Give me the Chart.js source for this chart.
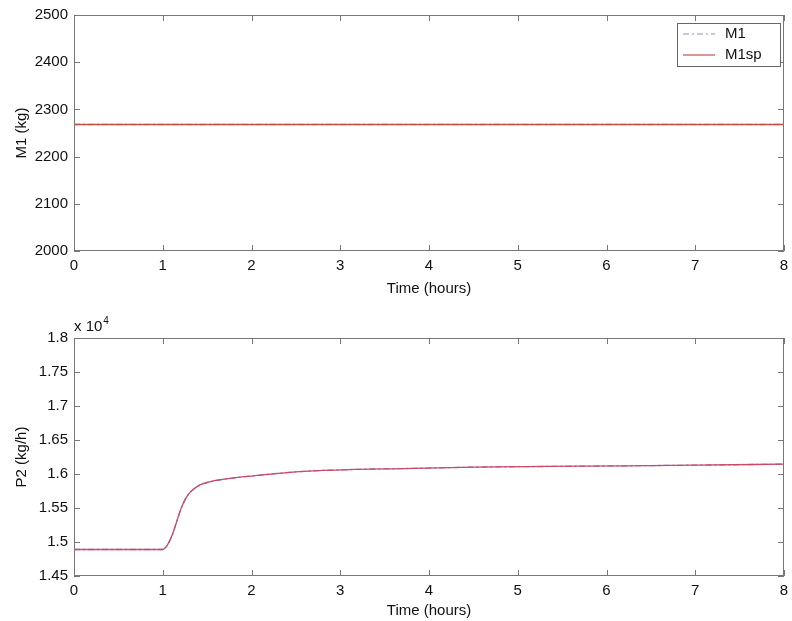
<!DOCTYPE html>
<html>
<head>
<meta charset="utf-8">
<script src="https://cdn.jsdelivr.net/npm/chart.js@4.4.0/dist/chart.umd.min.js"></script>
<style>
  body { margin: 0; background: #fff; }
  #wrap { position: relative; width: 792px; height: 621px; }
  canvas { position: absolute; left: 0; }
</style>
</head>
<body>
<div id="wrap">
  <canvas id="topChart" width="792" height="300" style="top:0px"></canvas>
  <canvas id="bottomChart" width="792" height="321" style="top:300px"></canvas>
</div>
<script>
// top plot: holdup M1 and its setpoint
const timeTop = [0, 8];
const m1 = [2268, 2268];
const m1sp = [2268, 2268];

// bottom plot: product flow P2 (kg/h)
const timeBottom = [0, 1.0, 1.05, 1.1, 1.15, 1.2, 1.25, 1.3, 1.35, 1.42, 1.5, 1.6, 1.76, 2.0, 2.3, 2.6, 3.1, 3.7, 4.5, 5.7, 7.0, 8.0];
const p2 = [14890, 14890, 14950, 15080, 15270, 15470, 15620, 15720, 15780, 15840, 15875, 15905, 15935, 15970, 16010, 16040, 16065, 16080, 16100, 16115, 16130, 16145];
const p2sp = [14890, 14890, 14950, 15080, 15270, 15470, 15620, 15720, 15780, 15840, 15875, 15905, 15935, 15970, 16010, 16040, 16065, 16080, 16100, 16115, 16130, 16145];

const xTickStep = 1;
const FONT = "'Liberation Sans', Arial, sans-serif";

const toPoints = (xs, ys) => xs.map((x, i) => ({ x: x, y: ys[i] }));

// draws a matlab style box with inward ticks, plus legend / exponent text
const matlabAxes = {
  id: 'matlabAxes',
  afterDraw(chart, args, opts) {
    const { ctx, chartArea: a, scales } = chart;
    ctx.save();
    ctx.strokeStyle = '#777';
    ctx.lineWidth = 1;
    ctx.strokeRect(a.left + 0.5, a.top + 0.5, a.right - a.left - 1, a.bottom - a.top - 1);

    ctx.beginPath();
    scales.x.ticks.forEach(t => {
      const px = Math.round(scales.x.getPixelForValue(t.value)) + 0.5;
      ctx.moveTo(px, a.bottom); ctx.lineTo(px, a.bottom - 6);
      ctx.moveTo(px, a.top); ctx.lineTo(px, a.top + 6);
    });
    scales.y.ticks.forEach(t => {
      const py = Math.round(scales.y.getPixelForValue(t.value)) + 0.5;
      ctx.moveTo(a.left, py); ctx.lineTo(a.left + 6, py);
      ctx.moveTo(a.right, py); ctx.lineTo(a.right - 6, py);
    });
    ctx.stroke();

    if (opts.legend) {
      const lx = a.right - 107, ly = a.top + 8, lw = 103, lh = 43;
      ctx.fillStyle = '#fff';
      ctx.fillRect(lx, ly, lw, lh);
      ctx.strokeStyle = '#666';
      ctx.strokeRect(lx + 0.5, ly + 0.5, lw, lh);
      ctx.font = '15px ' + FONT;
      ctx.textBaseline = 'middle';
      chart.data.datasets.forEach((ds, i) => {
        const y = ly + 11 + i * 21;
        ctx.beginPath();
        ctx.strokeStyle = ds.borderColor;
        ctx.lineWidth = 1.2;
        ctx.setLineDash(ds.borderDash || []);
        ctx.moveTo(lx + 6, y); ctx.lineTo(lx + 38, y);
        ctx.stroke();
        ctx.setLineDash([]);
        ctx.fillStyle = '#111';
        ctx.fillText(ds.label, lx + 48, y);
      });
    }

    if (opts.exponent) {
      ctx.fillStyle = '#111';
      ctx.textBaseline = 'alphabetic';
      ctx.font = '15px ' + FONT;
      ctx.fillText('x 10', a.left, a.top - 7);
      const w = ctx.measureText('x 10').width;
      ctx.font = '10px ' + FONT;
      ctx.fillText(opts.exponent, a.left + w + 1, a.top - 14);
    }
    ctx.restore();
  }
};

function makeOptions(cfg) {
  return {
    responsive: false,
    animation: false,
    layout: { padding: { top: cfg.padTop, right: 8, left: 0, bottom: 0 } },
    plugins: {
      legend: { display: false },
      tooltip: { enabled: false },
      matlabAxes: { legend: cfg.legend, exponent: cfg.exponent }
    },
    elements: { point: { radius: 0 } },
    scales: {
      x: {
        type: 'linear',
        min: 0, max: 8,
        ticks: { stepSize: xTickStep, autoSkip: false, maxRotation: 0, padding: 6, color: '#111', font: { family: FONT, size: 15 } },
        grid: { display: false, drawTicks: false },
        border: { display: false },
        title: { display: true, text: 'Time (hours)', color: '#111', font: { family: FONT, size: 15 }, padding: { top: 0, bottom: cfg.titlePadBottom } },
        afterFit: s => { s.height = cfg.xHeight; s.paddingLeft = 0; s.paddingRight = 0; }
      },
      y: {
        type: 'linear',
        min: cfg.yMin, max: cfg.yMax,
        ticks: { stepSize: cfg.yStep, autoSkip: false, padding: 6, color: '#111', font: { family: FONT, size: 15 }, callback: cfg.yFormat },
        grid: { display: false, drawTicks: false },
        border: { display: false },
        title: { display: true, text: cfg.yTitle, color: '#111', font: { family: FONT, size: 15 }, padding: { top: 13, bottom: 0 } },
        afterFit: s => { s.width = 74; s.paddingTop = 0; s.paddingBottom = 0; }
      }
    }
  };
}

new Chart(document.getElementById('topChart'), {
  type: 'line',
  data: {
    datasets: [
      { label: 'M1', data: toPoints(timeTop, m1), borderColor: '#8a92c8', borderWidth: 1.3, borderDash: [6, 3, 2, 3], order: 1 },
      { label: 'M1sp', data: toPoints(timeTop, m1sp), borderColor: '#c0504a', borderWidth: 1.3, order: 0 }
    ]
  },
  options: makeOptions({
    padTop: 15, xHeight: 49, titlePadBottom: 2, legend: true,
    yMin: 2000, yMax: 2500, yStep: 100, yTitle: 'M1 (kg)', yFormat: v => v
  }),
  plugins: [matlabAxes]
});

new Chart(document.getElementById('bottomChart'), {
  type: 'line',
  data: {
    datasets: [
      { label: 'P2', data: toPoints(timeBottom, p2), borderColor: '#8a80c8', borderWidth: 1.3, borderDash: [6, 3, 2, 3], cubicInterpolationMode: 'monotone', order: 1 },
      { label: 'P2sp', data: toPoints(timeBottom, p2sp), borderColor: '#cc4a68', borderWidth: 1.3, cubicInterpolationMode: 'monotone', order: 0 }
    ]
  },
  options: makeOptions({
    padTop: 38, xHeight: 45, titlePadBottom: 1, legend: false, exponent: '4',
    yMin: 14500, yMax: 18000, yStep: 500, yTitle: 'P2 (kg/h)',
    yFormat: v => String(Math.round(v / 100) / 100)
  }),
  plugins: [matlabAxes]
});
</script>
</body>
</html>
